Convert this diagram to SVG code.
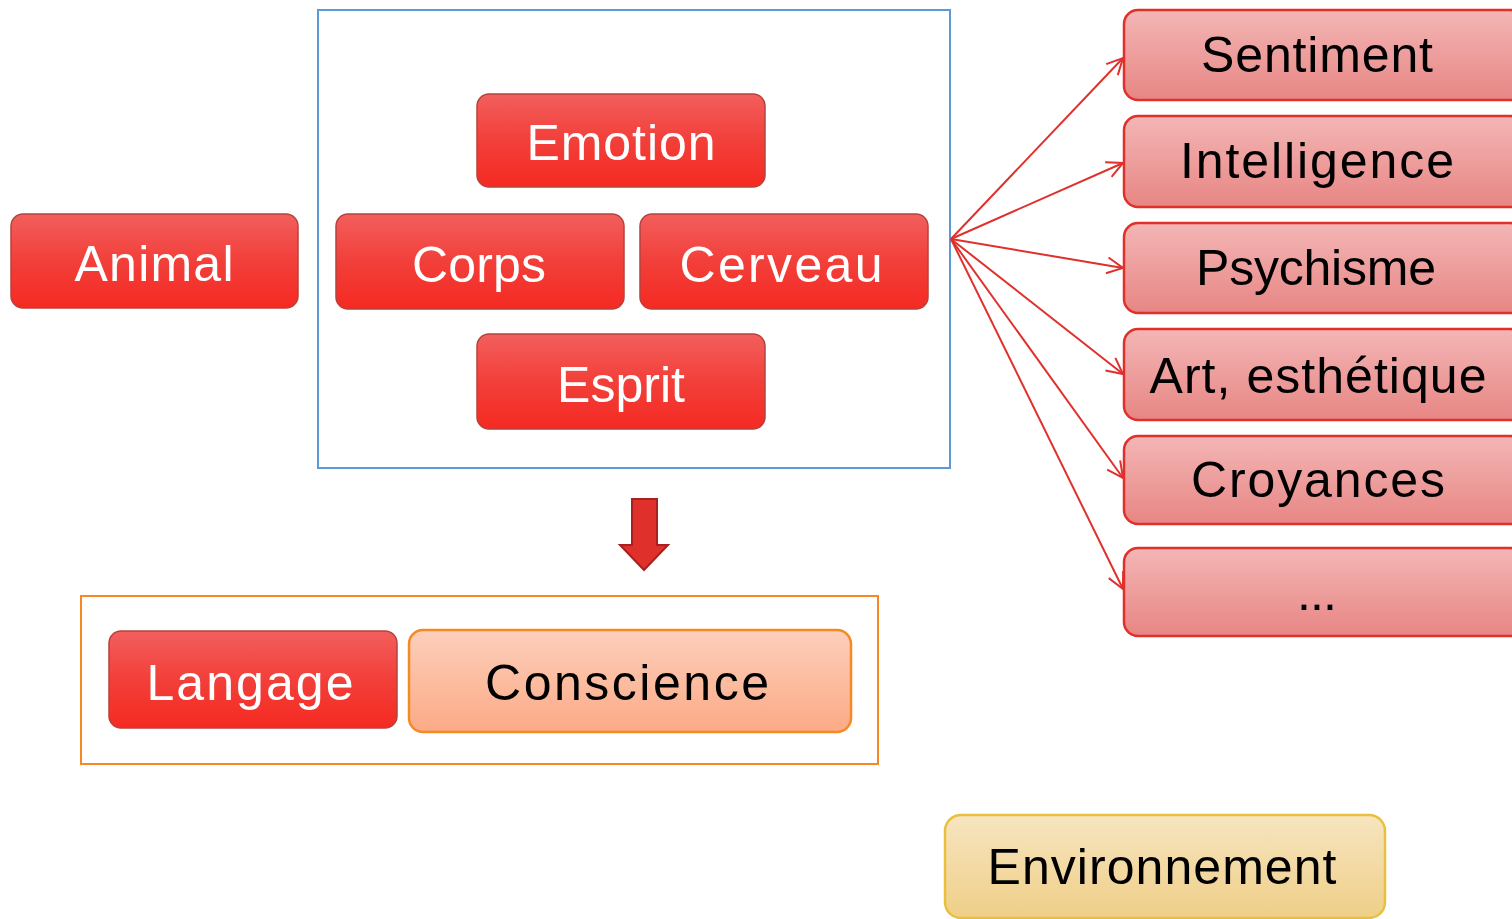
<svg xmlns="http://www.w3.org/2000/svg" width="1512" height="919" viewBox="0 0 1512 919">
<defs>
<linearGradient id="gRed" x1="0" y1="0" x2="0" y2="1">
<stop offset="0" stop-color="#f25f5d"/><stop offset="0.5" stop-color="#f23f3a"/><stop offset="1" stop-color="#f52a22"/>
</linearGradient>
<linearGradient id="gPink" x1="0" y1="0" x2="0" y2="1">
<stop offset="0" stop-color="#f3b6b5"/><stop offset="1" stop-color="#e78684"/>
</linearGradient>
<linearGradient id="gPeach" x1="0" y1="0" x2="0" y2="1">
<stop offset="0" stop-color="#fdcfbb"/><stop offset="1" stop-color="#fbaa86"/>
</linearGradient>
<linearGradient id="gGold" x1="0" y1="0" x2="0" y2="1">
<stop offset="0" stop-color="#f7e5c0"/><stop offset="1" stop-color="#efcf88"/>
</linearGradient>
<marker id="arr" viewBox="0 0 20 20" refX="18" refY="10" markerWidth="20" markerHeight="20" markerUnits="userSpaceOnUse" orient="auto">
<path d="M2,2 L18,10 L2,18" fill="none" stroke="#e0302c" stroke-width="2"/>
</marker>
<style>
.red rect{fill:url(#gRed);stroke:#b8413d;stroke-width:1.5}
.pink rect{fill:url(#gPink);stroke:#e0302c;stroke-width:2.5}
.t{font-family:"Liberation Sans",Arial,sans-serif;font-size:50px;text-anchor:middle}
.w{fill:#ffffff}
.k{fill:#000000}
.conn line{stroke:#e0302c;stroke-width:2;marker-end:url(#arr)}
</style>
</defs>
<rect width="1512" height="919" fill="#ffffff"/>
<rect x="318" y="10" width="632" height="458" fill="none" stroke="#5b9bd5" stroke-width="2"/>
<rect x="81" y="596" width="797" height="168" fill="none" stroke="#f58a25" stroke-width="2"/>
<g id="connectors" class="conn">
<line x1="951" y1="239" x2="1123" y2="58"/>
<line x1="951" y1="239" x2="1123" y2="163"/>
<line x1="951" y1="239" x2="1123" y2="268"/>
<line x1="951" y1="239" x2="1123" y2="374"/>
<line x1="951" y1="239" x2="1123" y2="478"/>
<line x1="951" y1="239" x2="1123" y2="589"/>
</g>
<g id="down-arrow">
<path d="M632,499 H657 V545 H668 L644,570 L620,545 H632 Z" fill="#e0302c" stroke="#a82020" stroke-width="2"/>
</g>
<g id="animal" class="red"><rect x="11" y="214" width="287" height="94" rx="12"/><text class="t w" x="154" y="281" textLength="159" lengthAdjust="spacing">Animal</text></g>
<g id="emotion" class="red"><rect x="477" y="94" width="288" height="93" rx="12"/><text class="t w" x="621" y="160" textLength="189" lengthAdjust="spacing">Emotion</text></g>
<g id="corps" class="red"><rect x="336" y="214" width="288" height="95" rx="12"/><text class="t w" x="479" y="282" textLength="134" lengthAdjust="spacing">Corps</text></g>
<g id="cerveau" class="red"><rect x="640" y="214" width="288" height="95" rx="12"/><text class="t w" x="781" y="282" textLength="203" lengthAdjust="spacing">Cerveau</text></g>
<g id="esprit" class="red"><rect x="477" y="334" width="288" height="95" rx="12"/><text class="t w" x="621" y="402">Esprit</text></g>
<g id="sentiment" class="pink"><rect x="1124" y="10" width="400" height="90" rx="14"/><text class="t k" x="1317" y="72" textLength="232" lengthAdjust="spacing">Sentiment</text></g>
<g id="intelligence" class="pink"><rect x="1124" y="116" width="400" height="91" rx="14"/><text class="t k" x="1317" y="178" textLength="274" lengthAdjust="spacing">Intelligence</text></g>
<g id="psychisme" class="pink"><rect x="1124" y="223" width="400" height="90" rx="14"/><text class="t k" x="1316" y="285" textLength="240" lengthAdjust="spacing">Psychisme</text></g>
<g id="art" class="pink"><rect x="1124" y="329" width="400" height="91" rx="14"/><text class="t k" x="1318" y="393" textLength="337" lengthAdjust="spacing">Art, esthétique</text></g>
<g id="croyances" class="pink"><rect x="1124" y="436" width="400" height="88" rx="14"/><text class="t k" x="1318" y="497" textLength="254" lengthAdjust="spacing">Croyances</text></g>
<g id="etc" class="pink"><rect x="1124" y="548" width="400" height="88" rx="14"/><text class="t k" x="1317" y="610" textLength="40" lengthAdjust="spacing">...</text></g>
<g id="langage" class="red"><rect x="109" y="631" width="288" height="97" rx="12"/><text class="t w" x="250" y="700" textLength="207" lengthAdjust="spacing">Langage</text></g>
<g id="conscience"><rect x="409" y="630" width="442" height="102" rx="14" fill="url(#gPeach)" stroke="#f58a25" stroke-width="2.5"/><text class="t k" x="627" y="700" textLength="284" lengthAdjust="spacing">Conscience</text></g>
<g id="environnement"><rect x="945" y="815" width="440" height="103" rx="16" fill="url(#gGold)" stroke="#e9c03e" stroke-width="2.5"/><text class="t k" x="1162" y="884" textLength="349" lengthAdjust="spacing">Environnement</text></g>
</svg>
